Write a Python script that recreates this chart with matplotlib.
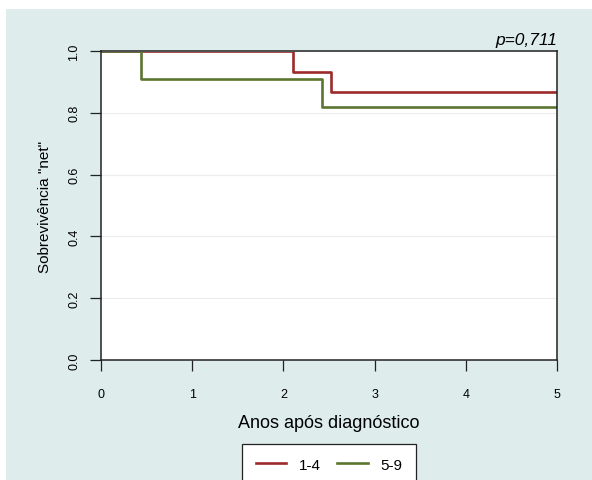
import matplotlib
matplotlib.use("Agg")
import matplotlib.pyplot as plt
from matplotlib.patches import Rectangle

plt.rcParams['font.family'] = ['Liberation Sans', 'DejaVu Sans']

# Data: step survival curves
g1_label = "1-4"
g1_times = [0.0, 2.11, 2.52, 5.0]
g1_surv = [1.0, 0.933, 0.867, 0.867]

g2_label = "5-9"
g2_times = [0.0, 0.44, 2.42, 5.0]
g2_surv = [1.0, 0.909, 0.818, 0.818]

x_ticks = [0, 1, 2, 3, 4, 5]
y_ticks = [0.0, 0.2, 0.4, 0.6, 0.8, 1.0]
y_ticklabels = ["0.0", "0.2", "0.4", "0.6", "0.8", "1.0"]
p_text = "p=0,711"

W, H = 592, 481
fig = plt.figure(figsize=(W / 100, H / 100), dpi=100, facecolor="white")
bg = Rectangle((6 / W, 0), 1 - 6 / W, (H - 10) / H, transform=fig.transFigure,
               facecolor="#deecec", edgecolor="none", zorder=-10)
fig.patches.append(bg)

ax = fig.add_axes([101 / W, (H - 361) / H, (557 - 101) / W, (361 - 52) / H])
ax.set_facecolor("white")

red = "#9c2a2a"
green = "#5b7631"
(l1,) = ax.step(g1_times, g1_surv, where="post", color=red, lw=1.9, label=g1_label, zorder=2)
(l2,) = ax.step(g2_times, g2_surv, where="post", color=green, lw=1.9, label=g2_label, zorder=2)

# clip curves just below the top frame so the 1.0 segments hide under the box
clip_rect = Rectangle((0, 0), 1, 1 - 1.4 / (361 - 52), transform=ax.transAxes,
                      facecolor="none", edgecolor="none")
ax.add_patch(clip_rect)
for ln in (l1, l2):
    ln.set_clip_path(clip_rect)

ax.set_xlim(0, 5)
ax.set_ylim(0, 1)
ax.set_xticks(x_ticks)
ax.set_yticks(y_ticks)
ax.set_yticklabels(y_ticklabels, rotation=90, va="center")
for s in ax.spines.values():
    s.set_linewidth(1.1)
    s.set_color("#222222")
    s.set_zorder(3)
ax.tick_params(axis="both", length=7.8, width=0.9, color="#222222", labelsize=9)
ax.tick_params(axis="x", pad=12.5)
ax.tick_params(axis="y", pad=7)
ax.grid(axis="y", color="#ececec", lw=0.8, zorder=0)
ax.set_axisbelow(True)

ax.set_xlabel("Anos após diagnóstico", fontsize=13, labelpad=10)
ax.set_ylabel("Sobrevivência \"net\"", fontsize=11, labelpad=12)

ax.text(1.0, 1.012, p_text, transform=ax.transAxes, ha="right", va="bottom",
        fontsize=12.5, style="italic")

leg = fig.legend(loc="upper center", bbox_to_anchor=(329 / W, (H - 445) / H),
                 ncol=2, frameon=True, fontsize=11, handlelength=2.0,
                 borderpad=0.9, columnspacing=1.1, handletextpad=0.8,
                 borderaxespad=0)
leg.get_frame().set_edgecolor("#222222")
leg.get_frame().set_linewidth(0.9)
leg.get_frame().set_boxstyle("square", pad=0)
leg.get_frame().set_facecolor("white")
leg.get_frame().set_alpha(1)

fig.savefig("out.png", dpi=100, facecolor=fig.get_facecolor())
